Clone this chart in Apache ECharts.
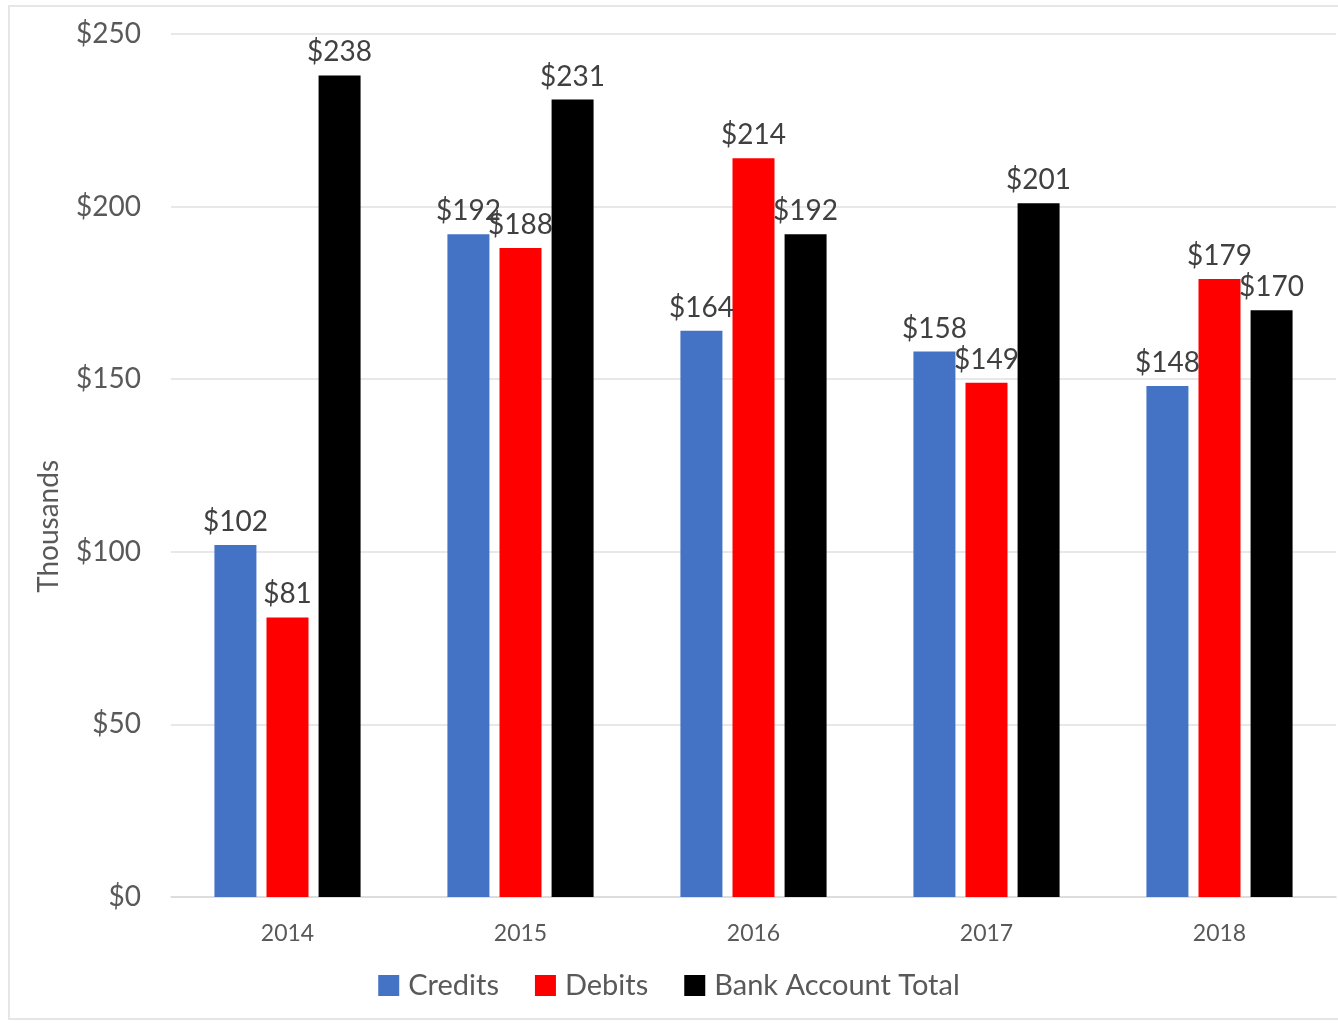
<!DOCTYPE html>
<html>
<head>
<meta charset="utf-8">
<script src="https://cdn.jsdelivr.net/npm/echarts@6/dist/echarts.min.js"></script>
<style>
html,body{margin:0;padding:0;background:#fff;}
#wrap{position:absolute;left:8px;top:5px;width:1340px;height:1015px;border:2px solid #e6e6e6;box-sizing:border-box;}
#chart{position:absolute;left:0;top:0;width:1338px;height:1023px;}
</style>
</head>
<body>
<div id="wrap"></div>
<div id="chart"></div>
<script>
const categories = ['2014','2015','2016','2017','2018'];
const credits = [102,192,164,158,148];
const debits = [81,188,214,149,179];
const bankTotal = [238,231,192,201,170];
const yTicks = [0,50,100,150,200,250];
const yAxisTitle = 'Thousands';

const FONT = 'Lato, "Open Sans", sans-serif';
const chart = echarts.init(document.getElementById('chart'));
const lbl = {show:true, position:'top', distance:9, color:'#404040', fontSize:28, fontFamily:FONT, formatter: p => '$' + p.value};
function mk(name, data, color){
  return {name, type:'bar', data, barWidth:42, barGap:'24%', itemStyle:{color}, label:lbl};
}
chart.setOption({
  animation:false,
  textStyle:{fontFamily:FONT},
  grid:{left:171, right:2, top:34, bottom:126, containLabel:false},
  graphic:[{
    type:'text', left:35, top:460, rotation:Math.PI/2,
    style:{text:yAxisTitle, fontSize:28, fill:'#595959', fontFamily:FONT}
  }],
  legend:{
    bottom:18, left:'center', itemWidth:21, itemHeight:21, itemGap:36,
    icon:'rect',
    textStyle:{fontSize:29, color:'#595959', fontFamily:FONT, padding:[0,0,0,4]},
    data:['Credits','Debits','Bank Account Total']
  },
  xAxis:{
    type:'category', data:categories,
    axisLine:{lineStyle:{color:'#d9d9d9', width:1.5}},
    axisTick:{show:false},
    axisLabel:{fontSize:23, color:'#595959', margin:25, fontFamily:FONT}
  },
  yAxis:{
    type:'value', min:yTicks[0], max:yTicks[yTicks.length-1], interval:50,
    axisLine:{show:false}, axisTick:{show:false},
    splitLine:{lineStyle:{color:'#e0e0e0', width:1.5}},
    axisLabel:{fontSize:28, color:'#595959', margin:30, fontFamily:FONT, formatter: v => '$' + v}
  },
  series:[
    mk('Credits', credits, '#4472C4'),
    mk('Debits', debits, '#FF0000'),
    mk('Bank Account Total', bankTotal, '#000000')
  ]
});
</script>
</body>
</html>
